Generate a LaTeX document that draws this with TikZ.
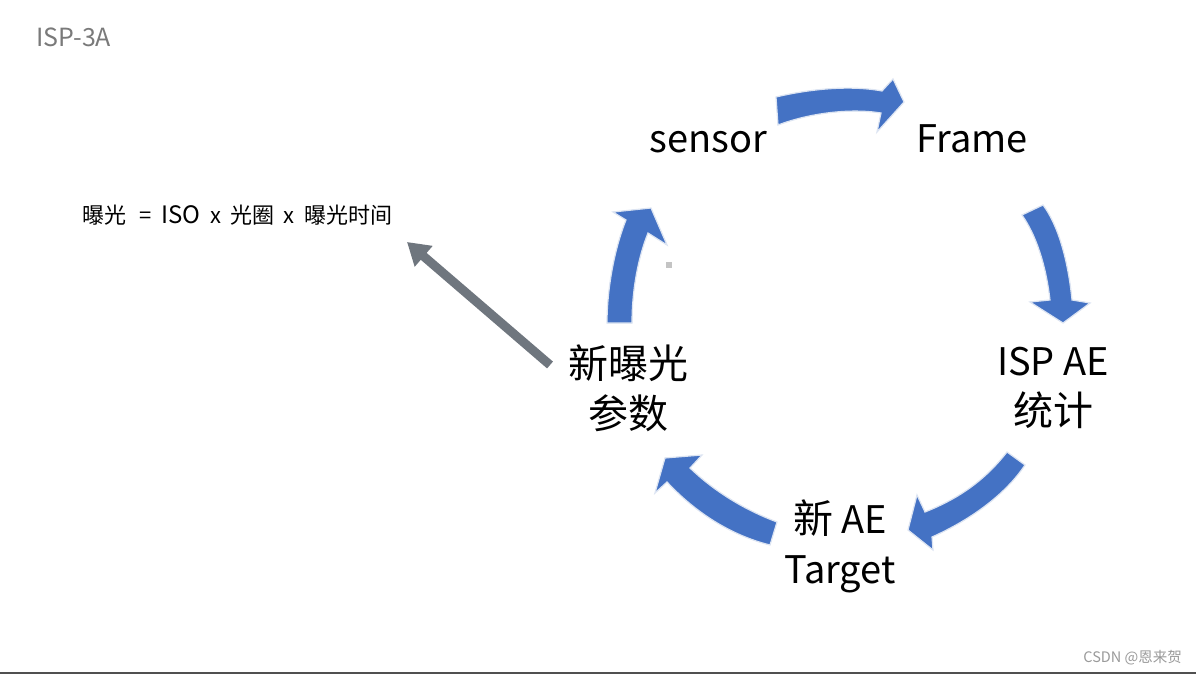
\documentclass[tikz,border=0pt]{standalone}
\usepackage{fontspec}
\newfontfamily\cjk{Noto Sans CJK SC}
\usetikzlibrary{arrows.meta}
\definecolor{aeblue}{HTML}{4472C4}
\definecolor{rimblue}{HTML}{DCE4F2}
\definecolor{arrowgray}{HTML}{6F767E}
\definecolor{titlegray}{HTML}{7A7A7A}
\definecolor{markgray}{HTML}{C4C4C4}
\definecolor{wmgray}{HTML}{9A9A9A}
\definecolor{rulegray}{HTML}{505050}
\newcommand{\lat}{\fontsize{38}{50}\selectfont}
\begin{document}
\begin{tikzpicture}[x=1pt,y=-1pt,
  bigtext/.style={font=\cjk\fontsize{40}{50}\selectfont, inner sep=0pt, align=center},
  formulatext/.style={font=\cjk\fontsize{22}{26}\selectfont, inner sep=0pt},
  titletext/.style={font=\cjk\fontsize{25}{28}\selectfont, text=titlegray, inner sep=0pt},
  wmtext/.style={font=\cjk\fontsize{14.5}{17}\selectfont, text=wmgray, inner sep=0pt},
  blockarrow/.style={fill=aeblue, draw=rimblue, line width=1.2pt, line join=miter},
  grayarrow/.style={draw=arrowgray, line width=9pt, -{Triangle[length=22pt,width=26pt]}}]
\fill[white] (0,0) rectangle (1196,674);
\useasboundingbox (0,0) rectangle (1196,674);

% texts
\node[titletext, anchor=base west] (title) at (36,47) {ISP-3A};
\node[bigtext, anchor=base] (sensor) at (708,153) {\lat sensor};
\node[bigtext, anchor=base] (frame) at (972,153) {\lat Frame};
\node[bigtext] (stat) at (1053,388) {{\lat ISP AE}\\统计};
\node[bigtext] (target) at (840,546) {新{\lat\ AE}\\{\lat Target}};
\node[bigtext] (params) at (628,388) {新曝光\\参数};
\node[formulatext, anchor=base west] (formula) at (82,223) {曝光\hspace{13pt}=\hspace{10pt}{\fontsize{24}{26}\selectfont ISO}\hspace{10pt}x\hspace{9pt}光圈\hspace{9pt}x\hspace{10pt}曝光时间};
\node[wmtext, anchor=base east] (wm) at (1182,662) {CSDN @恩来贺};

% blue cycle arrows
\path[blockarrow] (776,97) .. controls (810,89) and (850,85) .. (882,91)
  -- (893,79) -- (904,102) -- (877,132) -- (881,113)
  .. controls (850,108) and (810,113) .. (778,125) -- cycle;
\path[blockarrow] (1043,205) .. controls (1058,225) and (1068,260) .. (1072,300)
  -- (1090,303) -- (1063,323) -- (1030,302) -- (1050,300)
  .. controls (1046,265) and (1036,235) .. (1022,215) -- cycle;
\path[blockarrow] (1007,452) .. controls (985,480) and (960,498) .. (925,512)
  -- (917,495) -- (908,530) -- (933,550) -- (932,537)
  .. controls (970,520) and (1005,495) .. (1025,465) -- cycle;
\path[blockarrow] (777,522) .. controls (745,510) and (715,492) .. (690,468)
  -- (702,455) -- (665,458) -- (655,493) -- (667,482)
  .. controls (695,512) and (730,535) .. (770,545) -- cycle;
\path[blockarrow] (632,323) .. controls (632,290) and (638,258) .. (648,233)
  -- (667,245) -- (651,208) -- (613,212) -- (626,220)
  .. controls (614,250) and (607,290) .. (607,323) -- cycle;

% small grey mark
\fill[markgray] (666,262) rectangle (672,268);

% grey arrow to formula
\coordinate (gstart) at (550,365);
\coordinate (gend) at (407,242);
\draw[grayarrow] (gstart) -- (gend);

% bottom rule
\fill[rulegray] (0,671.5) rectangle (1196,674);
\end{tikzpicture}
\end{document}
